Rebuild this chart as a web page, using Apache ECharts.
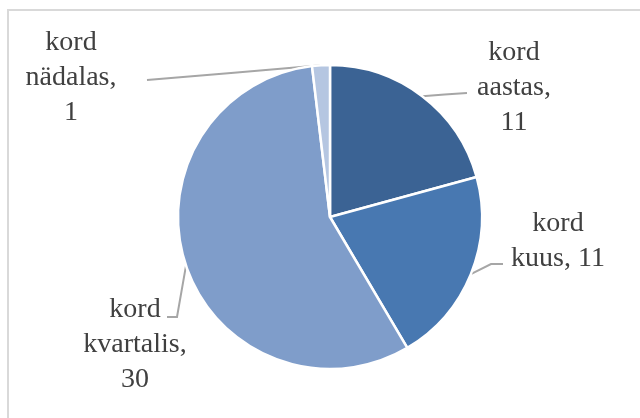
<!DOCTYPE html>
<html>
<head>
<meta charset="utf-8">
<style>
  html, body { margin: 0; padding: 0; background: #ffffff; }
  #chart { width: 640px; height: 418px; }
</style>
<script src="https://cdn.jsdelivr.net/npm/echarts@6/dist/echarts.min.js"></script>
</head>
<body>
<div id="chart"></div>
<script>
// Survey answers: how often the activity happens
const categories = ['kord aastas', 'kord kuus', 'kord kvartalis', 'kord nädalas'];
const counts = [11, 11, 30, 1];
const labelTexts = ['kord\naastas,\n11', 'kord\nkuus, 11', 'kord\nkvartalis,\n30', 'kord\nnädalas,\n1'];

const sliceColors = ['#3B6394', '#4878B1', '#7F9DCA', '#B5C6E1'];
const serifFont = 'Liberation Serif';

// Where each label block sits, and how its leader line bends toward it
const labelSpots = [
  { x: 514, y: 88, bend: null, end: [467, 93] },
  { x: 558, y: 241, bend: [491, 264], end: [503, 264] },
  { x: 135, y: 345, bend: [177, 317], end: [167, 317] },
  { x: 71, y: 78, bend: null, end: [147, 80] }
];

function buildOption() {
  return {
    backgroundColor: '#ffffff',
    animationDuration: 150,
    textStyle: { fontFamily: serifFont },
    graphic: [{
      type: 'rect',
      shape: { x: 8, y: 10, width: 660, height: 430 },
      style: { fill: 'none', stroke: '#D9D9D9', lineWidth: 2 },
      silent: true
    }],
    series: [{
      type: 'pie',
      center: [330, 217],
      radius: 152,
      startAngle: 90,
      clockwise: true,
      data: categories.map((name, i) => ({
        name,
        value: counts[i],
        itemStyle: { color: sliceColors[i] },
        label: { formatter: labelTexts[i], fontFamily: serifFont }
      })),
      itemStyle: { borderColor: '#ffffff', borderWidth: 2.5 },
      label: {
        show: true,
        position: 'outside',
        color: '#404040',
        fontFamily: serifFont,
        fontSize: 28,
        lineHeight: 35,
        align: 'center'
      },
      labelLine: {
        show: true,
        length: 20,
        length2: 20,
        lineStyle: { color: '#A6A6A6', width: 2 }
      },
      labelLayout: function (params) {
        const spot = labelSpots[params.dataIndex];
        const start = params.labelLinePoints ? params.labelLinePoints[0] : spot.end;
        const pts = spot.bend ? [start, spot.bend, spot.end]
                              : [start, [(start[0] + spot.end[0]) / 2, (start[1] + spot.end[1]) / 2], spot.end];
        return {
          x: spot.x,
          y: spot.y,
          align: 'center',
          verticalAlign: 'middle',
          labelLinePoints: pts
        };
      }
    }]
  };
}

const chart = echarts.init(document.getElementById('chart'), null, { renderer: 'canvas' });
chart.setOption(buildOption());

// Canvas text is not repainted when a font becomes available, so force a redraw afterwards
function repaint() {
  chart.clear();
  chart.setOption(buildOption());
}
if (document.fonts && document.fonts.load) {
  document.fonts.load('28px "' + serifFont + '"').then(repaint, repaint);
}
setTimeout(repaint, 60);
</script>
</body>
</html>
